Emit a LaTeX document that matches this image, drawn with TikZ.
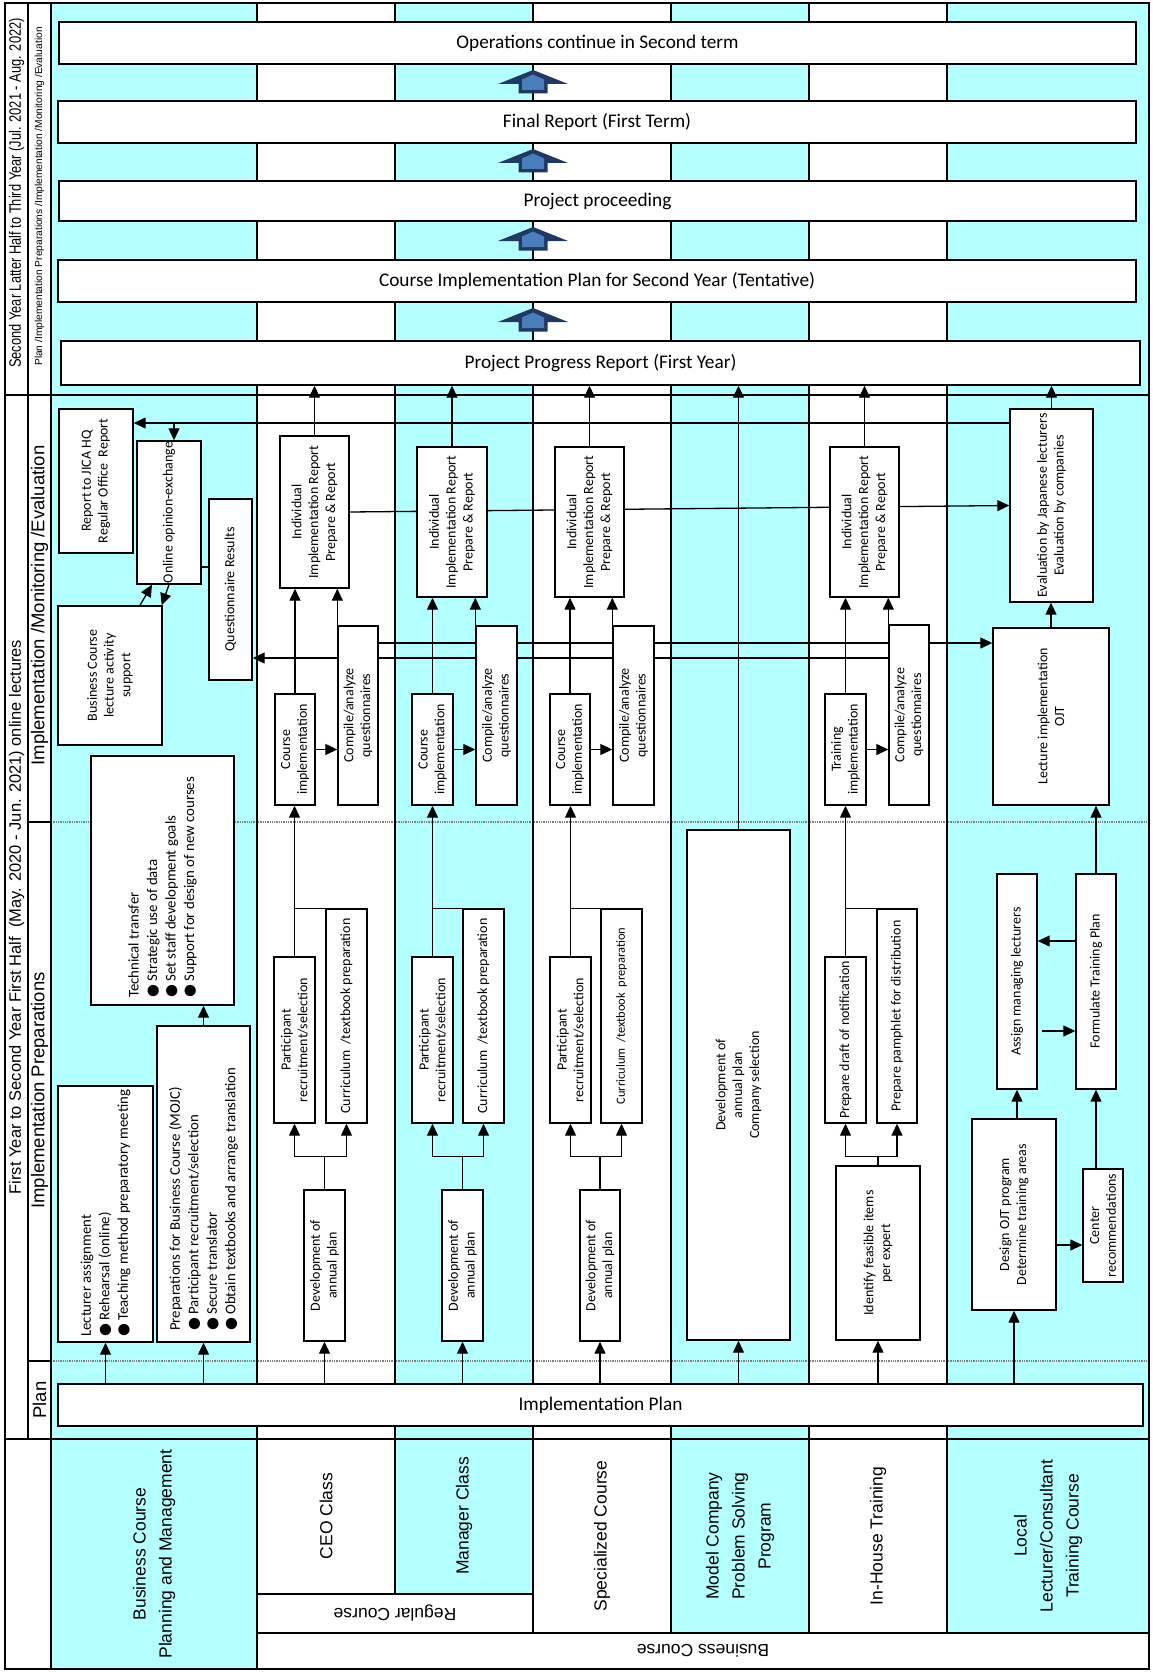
\documentclass[tikz,border=0pt]{standalone}
\usepackage{fontspec}
\setmainfont{Carlito}
\newfontfamily\arialf{Liberation Sans}
\newfontfamily\dvs{DejaVu Sans}
\usetikzlibrary{arrows.meta,fit,calc}
\pgfdeclarelayer{bg}
\pgfdeclarelayer{conn}
\pgfsetlayers{bg,conn,main}
\definecolor{lanecyan}{RGB}{180,255,255}
\definecolor{navyA}{RGB}{31,56,100}
\definecolor{blueB}{RGB}{74,126,187}
\newcommand\bulmark{{\dvs ●}}
\newcommand\mybox[5][intext]{%
  \node[boxst,fit={(#3) (#4)}] (#2) {};
  \node[#1] (#2t) at (#2.center) {#5};}
\newcommand\blockup[1]{%
  \fill[navyA] (533,#1) -- (568,#1+14) -- (547.5,#1+14) -- (547.5,#1+23.5) -- (518.5,#1+23.5) -- (518.5,#1+14) -- (498,#1+14) -- cycle;
  \fill[blueB] (533,#1+4.5) -- (544,#1+9.5) -- (544,#1+20) -- (522,#1+20) -- (522,#1+9.5) -- cycle;}
\newcommand\lanewires[2]{%
  \draw[arr] (#1Ind.north) -- (#1Ind.north |- b5.south);
  \draw[arr] (#1CI.north) -- (#1CI.north |- #1Ind.south);
  \draw[arr] (#1Cmp.north west) -- (#1Cmp.north west |- #1Ind.south);
  \draw[arr] (#1CI.east) -- (#1CI.east -| #1Cmp.west);
  \draw[arr] (#1Part.north) -- (#1Part.north |- #1CI.south);
  \draw[wire] (#1Cur.north west) -- (#1Cur.north west -| #1Part.north);
  \draw[arr] (#1Dev.north) -- ++(0,#2) -| (#1Part.south);
  \draw[arr] (#1Dev.north) -- ++(0,#2) -| (#1Cur.south);
  \draw[arr] (#1Dev.south |- plan.north) -- (#1Dev.south);}
\begin{document}
\begin{tikzpicture}[x=1pt,y=-1pt,
  boxst/.style={draw, fill=white, line width=1.4pt, inner sep=0pt},
  intext/.style={rotate=90, align=center, font=\fontsize{14}{16.8}\selectfont, inner sep=0pt},
  bullt/.style={rotate=90, align=left, font=\fontsize{14.8}{18.5}\selectfont, inner sep=0pt, anchor=west},
  toptext/.style={font=\fontsize{19.3}{22}\selectfont, inner sep=0pt},
  hdr/.style={rotate=90, align=center, font=\arialf\fontsize{17.5}{26}\selectfont, inner sep=0pt},
  frm/.style={line width=1.6pt},
  wire/.style={line width=1.3pt},
  arr/.style={line width=1.3pt, -{Triangle[width=11pt,length=12pt]}},
  sepline/.style={gray, line width=1.3pt, densely dotted}]
\useasboundingbox (0,0) rectangle (1153,1672);

\begin{pgfonlayer}{bg}
  \fill[white] (0,0) rectangle (1153,1672);
  \fill[lanecyan] (51,3) rectangle (257,1669);
  \fill[lanecyan] (395,3) rectangle (533,1594);
  \fill[lanecyan] (671,3) rectangle (809,1633);
  \fill[lanecyan] (947,3) rectangle (1149,1633);
  \draw[sepline] (51,822) -- (1149,822);
  \draw[sepline] (51,1361) -- (1149,1361);
  \draw[frm] (5,3) rectangle (1149,1669);
  \draw[frm] (28,3) -- (28,1439);
  \draw[frm] (51,3) -- (51,1669);
  \draw[frm] (257,3) -- (257,1669);
  \draw[frm] (395,3) -- (395,1594);
  \draw[frm] (533,3) -- (533,1633);
  \draw[frm] (671,3) -- (671,1633);
  \draw[frm] (809,3) -- (809,1633);
  \draw[frm] (947,3) -- (947,1633);
  \draw[frm] (5,395) -- (1149,395);
  \draw[frm] (5,1439) -- (1149,1439);
  \draw[frm] (28,822) -- (51,822);
  \draw[frm] (28,1361) -- (51,1361);
  \draw[frm] (257,1594) -- (533,1594);
  \draw[frm] (257,1633) -- (1149,1633);
\end{pgfonlayer}

% left column texts
\node[rotate=90, inner sep=0pt, font=\arialf\fontsize{16.5}{18}\selectfont] (c1a) at (16.5,193) {\scalebox{0.78}[1]{Second Year Latter Half to Third Year (Jul. 2021 - Aug. 2022)}};
\node[rotate=90, inner sep=0pt, font=\arialf\fontsize{10.2}{12}\selectfont] (c2a) at (39.5,196.5) {Plan /Implementation Preparations /Implementation /Monitoring /Evaluation};
\node[rotate=90, inner sep=0pt, font=\arialf\fontsize{16.5}{18}\selectfont] (c1b) at (16.5,917) {First Year to Second Year First Half\ \ (May. 2020 - Jun. 2021) online lectures};
\node[rotate=90, inner sep=0pt, font=\arialf\fontsize{18.5}{20}\selectfont] (c2b) at (39.5,605.5) {Implementation /Monitoring /Evaluation};
\node[rotate=90, inner sep=0pt, font=\arialf\fontsize{18.5}{20}\selectfont] (c2c) at (39.5,1090.5) {Implementation Preparations};
\node[rotate=90, inner sep=0pt, font=\arialf\fontsize{18.5}{20}\selectfont] (c2d) at (39.5,1400) {Plan};

% headers
\node[hdr] (hBC) at (154,1554) {Business Course\\Planning and Management};
\node[hdr] (hCEO) at (326,1516) {CEO Class};
\node[hdr] (hMgr) at (464,1516) {Manager Class};
\node[hdr] (hSp) at (602,1536) {Specialized Course};
\node[hdr] (hMd) at (740,1536) {Model Company\\Problem Solving\\Program};
\node[hdr] (hIH) at (878,1536) {In-House Training};
\node[hdr] (hLoc) at (1048,1536) {Local\\Lecturer/Consultant\\Training Course};
\node[rotate=180, inner sep=0pt, font=\arialf\fontsize{17.5}{20}\selectfont] (hReg) at (395,1613) {Regular Course};
\node[rotate=180, inner sep=0pt, font=\arialf\fontsize{17.5}{20}\selectfont] (hBus) at (703,1651) {Business Course};

% top boxes
\mybox[toptext]{b1}{59,22}{1136,64}{Operations continue in Second term}
\mybox[toptext]{b2}{58,101}{1136,143}{Final Report (First Term)}
\mybox[toptext]{b3}{59,181}{1136,221}{Project proceeding}
\mybox[toptext]{b4}{58,260}{1136,302}{Course Implementation Plan for Second Year (Tentative)}
\mybox[toptext]{b5}{61,341}{1140,385}{Project Progress Report (First Year)}
\blockup{70}
\blockup{149}
\blockup{227}
\blockup{308}

% plan box
\mybox[toptext]{plan}{58,1384}{1143,1426}{Implementation Plan}

% lane 1
\mybox{reportJ}{59,409}{133,553}{Report to JICA HQ\\Regular Office\ \ Report}
\mybox{online}{137,441}{201,584}{Online opinion-exchange}
\mybox{quest}{209,499}{252,680}{Questionnaire Results}
\mybox{bcs}{58,606}{162,745}{Business Course\\lecture activity\\support}
\node[boxst, fit={(91,756) (234,1005)}] (tech) {};
\node[bullt] (techt) at (162.5,998) {Technical transfer\\\bulmark\ Strategic use of data\\\bulmark\ Set staff development goals\\\bulmark\ Support for design of new courses};
\node[boxst, fit={(58,1086) (153,1342)}] (lect) {};
\node[bullt] (lectt) at (105.5,1337) {Lecturer assignment\\\bulmark\ Rehearsal (online)\\\bulmark\ Teaching method preparatory meeting};
\node[boxst, fit={(157,1026) (250,1342)}] (prep) {};
\node[bullt] (prept) at (203.5,1331) {Preparations for Business Course (MOJC)\\\bulmark\ Participant recruitment/selection\\\bulmark\ Secure translator\\\bulmark\ Obtain textbooks and arrange translation};

% CEO
\mybox{ceoInd}{280,436}{349,588}{Individual\\Implementation Report\\Prepare \& Report}
\mybox{ceoCI}{275,694}{315,805}{Course\\implementation}
\mybox{ceoCmp}{338,626}{378,805}{Compile/analyze\\questionnaires}
\mybox{ceoPart}{274,957}{315,1123}{Participant\\recruitment/selection}
\mybox{ceoCur}{326,909}{367,1123}{Curriculum\ \ /textbook preparation}
\mybox{ceoDev}{304,1190}{345,1341}{Development of\\annual plan}
% Manager
\mybox{mgInd}{417,447}{487,597}{Individual\\Implementation Report\\Prepare \& Report}
\mybox{mgCI}{412,694}{453,805}{Course\\implementation}
\mybox{mgCmp}{476,626}{517,805}{Compile/analyze\\questionnaires}
\mybox{mgPart}{412,957}{453,1123}{Participant\\recruitment/selection}
\mybox{mgCur}{463,909}{504,1123}{Curriculum\ \ /textbook preparation}
\mybox{mgDev}{442,1190}{483,1341}{Development of\\annual plan}
% Specialized
\mybox{spInd}{555,447}{624,597}{Individual\\Implementation Report\\Prepare \& Report}
\mybox{spCI}{550,694}{590,805}{Course\\implementation}
\mybox{spCmp}{613,626}{654,805}{Compile/analyze\\questionnaires}
\mybox{spPart}{550,957}{591,1123}{Participant\\recruitment/selection}
\mybox[intext,font=\fontsize{12.5}{15}\selectfont]{spCur}{601,909}{642,1123}{Curriculum\ \ /textbook\ \ preparation}
\mybox{spDev}{580,1190}{620,1341}{Development of\\annual plan}
% Model company
\mybox{mdl}{687,830}{790,1340}{Development of\\annual plan\\Company selection}
% In-house
\mybox{ihInd}{830,447}{899,597}{Individual\\Implementation Report\\Prepare \& Report}
\mybox{ihCI}{825,694}{866,805}{Training\\implementation}
\mybox{ihCmp}{889,625}{929,805}{Compile/analyze\\questionnaires}
\mybox{ihPart}{825,957}{866,1123}{Prepare draft of notification}
\mybox{ihCur}{877,909}{917,1123}{Prepare pamphlet for distribution}
\mybox{ihDev}{836,1166}{920,1340}{Identify feasible items\\per expert}
% Local lecturer
\mybox{eval}{1010,409}{1093,602}{Evaluation by Japanese lecturers\\Evaluation by companies}
\mybox{ojt}{993,628}{1109,805}{Lecture implementation\\OJT}
\mybox{assign}{997,874}{1037,1089}{Assign managing lecturers}
\mybox{form}{1076,874}{1116,1089}{Formulate Training Plan}
\mybox{design}{972,1119}{1056,1310}{Design OJT program\\Determine training areas}
\mybox{crec}{1083,1169}{1123,1282}{Center\\recommendations}

\begin{pgfonlayer}{conn}
  % lane 1
  \draw[arr] (lect.south |- plan.north) -- (lect.south);
  \draw[arr] (prep.south |- plan.north) -- (prep.south);
  \draw[arr] (prep.north) -- (prep.north |- tech.south);
  \draw[arr] ([xshift=30pt]bcs.north) -- ([xshift=-17pt]online.south);
  \draw[arr] (online.south) -- ([xshift=-1pt]bcs.north east);
  \draw[wire] ([yshift=-54.5pt]online.east) coordinate (oq) -- (oq -| quest.west);
  \draw[arr] ([yshift=82.5pt]eval.west) coordinate (t1) -- (t1 -| reportJ.east);
  \path ([xshift=5pt]online.north) coordinate (t2);
  \draw[arr] (t2 |- t1) -- (t2);
  \draw[arr] ([yshift=72.5pt]ceoCmp.east) coordinate (u1) -- (u1 -| ojt.west);
  \draw[arr] ([yshift=57pt]ihCmp.west) coordinate (u2) -- (u2 -| quest.east);
  \draw[arr] (ceoInd.east) -- (eval.west);
  % course lanes
  \lanewires{ceo}{-33}
  \lanewires{mg}{-33}
  \lanewires{sp}{-33}
  \lanewires{ih}{-9}
  % model
  \draw[arr] (mdl.south |- plan.north) -- (mdl.south);
  \draw[arr] (mdl.north) -- (mdl.north |- b5.south);
  % local
  \draw[arr] (eval.north) -- (eval.north |- b5.south);
  \draw[arr] (ojt.north) -- (ojt.north |- eval.south);
  \draw[arr] (form.north) -- (form.north |- ojt.south);
  \draw[arr] ([yshift=40.5pt]form.west) coordinate (f1) -- (f1 -| assign.east);
  \draw[arr] ([xshift=4pt,yshift=-49.5pt]assign.east) coordinate (f2) -- (f2 -| form.west);
  \draw[arr] (assign.south |- design.north) -- (assign.south);
  \draw[arr] (form.south |- crec.north) -- (form.south);
  \draw[arr] ([yshift=-30.5pt]design.east) -- ([yshift=-19.5pt]crec.west);
  \draw[arr] (design.south |- plan.north) -- (design.south);
\end{pgfonlayer}
\end{tikzpicture}
\end{document}
